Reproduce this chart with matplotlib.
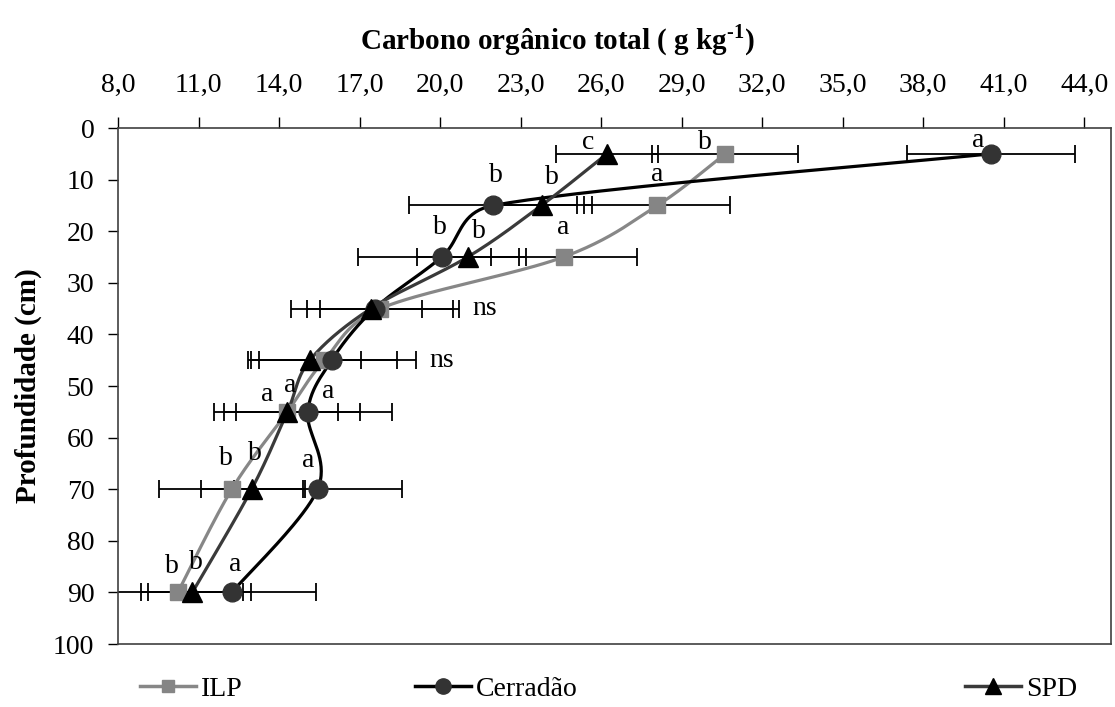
import numpy as np
import matplotlib
matplotlib.use("Agg")
import matplotlib.pyplot as plt
from matplotlib.lines import Line2D

plt.rcParams["font.family"] = "Liberation Serif"
plt.rcParams["mathtext.fontset"] = "custom"
plt.rcParams["mathtext.rm"] = "Liberation Serif:bold"
plt.rcParams["mathtext.bf"] = "Liberation Serif:bold"

# profundidade (cm) e COT (g/kg) por sistema
profundidade = [5, 15, 25, 35, 45, 55, 70, 90]
ilp = [30.63, 28.10, 24.60, 17.77, 15.69, 14.31, 12.24, 10.23]
cerradao = [40.53, 21.99, 20.06, 17.56, 15.96, 15.07, 15.44, 12.24]
spd = [26.22, 23.78, 21.03, 17.42, 15.15, 14.31, 12.98, 10.77]

erro_ilp = [2.72, 2.72, 2.72, 2.72, 2.72, 2.72, 2.72, 2.72]
erro_cerradao = [3.13, 3.13, 3.13, 3.13, 3.13, 3.13, 3.13, 3.13]
erro_spd = [1.90, 1.90, 1.90, 1.90, 1.90, 1.90, 1.90, 1.90]

# letras do teste de medias ('' = sem letra)
letras_ilp = ["b", "a", "a", "", "", "a", "b", "b"]
letras_cerradao = ["a", "b", "b", "", "", "a", "a", "a"]
letras_spd = ["c", "b", "b", "", "", "a", "b", "b"]
ns = ["", "", "", "ns", "ns", "", "", ""]

xticks = [8, 11, 14, 17, 20, 23, 26, 29, 32, 35, 38, 41, 44]

# deslocamento das letras em pixels (dx, dy)
desl_ilp = [(-20, 11), (0, 31), (0, 29), None, None, (3, 26), (-6, 31), (-6, 26)]
desl_cerradao = [(-13, 13), (2, 30), (-2, 29), None, None, (20, 20), (-9, 29), (3, 28)]
desl_spd = [(-19, 11), (10, 28), (11, 26), None, None, (-20, 17), (3, 36), (4, 30)]


def suaviza(ax, x, y, n=40, k=0.5):
    # curva suavizada tipo Excel (Bezier), com controle limitado ao tamanho do segmento
    pts = ax.transData.transform(np.column_stack([x, y]))
    P = np.vstack([pts[0], pts, pts[-1]])
    out = []
    t = np.linspace(0, 1, n)[:, None]
    for i in range(1, len(P) - 2):
        p0, p1, p2, p3 = P[i - 1], P[i], P[i + 1], P[i + 2]
        seg_len = np.hypot(*(p2 - p1))
        d1 = (p2 - p0) / 6
        d2 = (p3 - p1) / 6
        for d in (d1, d2):
            n_d = np.hypot(*d)
            if n_d > k * seg_len:
                d *= k * seg_len / n_d
        c1 = p1 + d1
        c2 = p2 - d2
        seg = (1 - t) ** 3 * p1 + 3 * (1 - t) ** 2 * t * c1 + 3 * (1 - t) * t ** 2 * c2 + t ** 3 * p2
        out.append(seg if i == 1 else seg[1:])
    return ax.transData.inverted().transform(np.vstack(out))


fig = plt.figure(figsize=(11.15, 7.07), dpi=100)
ax = fig.add_axes([118 / 1115, 63 / 707, 993 / 1115, 516 / 707])
ax.set_xlim(8, 45)
ax.set_ylim(100, 0)

series = [
    (ilp, erro_ilp, "#878787", "s", "#858585", 11, letras_ilp, desl_ilp),
    (cerradao, erro_cerradao, "black", "o", "#333333", 13.5, letras_cerradao, desl_cerradao),
    (spd, erro_spd, "#3a3a3a", "^", "black", 14.5, letras_spd, desl_spd),
]

for vals, err, cor, mk, cormk, ms, letras, desl in series:
    ax.errorbar(vals, profundidade, xerr=err, fmt="none", ecolor="black",
                elinewidth=1.3, capsize=6.5, capthick=1.3, zorder=2)

for vals, err, cor, mk, cormk, ms, letras, desl in series:
    curva = suaviza(ax, vals, profundidade)
    ax.plot(curva[:, 0], curva[:, 1], color=cor, lw=2.3, zorder=3,
            solid_capstyle="round")
    ax.plot(vals, profundidade, ls="none", marker=mk, ms=ms, color=cormk, zorder=4)
    for v, p, l, d in zip(vals, profundidade, letras, desl):
        if l:
            ax.annotate(l, (v, p), xytext=d, textcoords="offset pixels",
                        ha="center", va="center", fontsize=20, zorder=5)

# "ns" a direita da maior barra
for i, txt in enumerate(ns):
    if txt:
        xmax = max(ilp[i] + erro_ilp[i], cerradao[i] + erro_cerradao[i], spd[i] + erro_spd[i])
        ax.annotate(txt, (xmax, profundidade[i]), xytext=(14, 0), textcoords="offset pixels",
                    ha="left", va="center", fontsize=20)

ax.xaxis.tick_top()
ax.set_xticks(xticks)
ax.set_xticklabels([f"{v:.1f}".replace(".", ",") for v in xticks])
ax.set_yticks(range(0, 101, 10))
ax.tick_params(axis="x", direction="out", length=8, width=1, pad=14, labelsize=20, colors="black")
ax.tick_params(axis="y", direction="out", length=7, width=1, pad=10, labelsize=20)
for s in ax.spines.values():
    s.set_color("#404040")
    s.set_linewidth(1.2)

fig.text(0.5, 1 - 40 / 707, r"Carbono orgânico total ( g kg$^{\text{-1}}$)", ha="center",
         va="center", fontsize=21, fontweight="bold")
ax.set_ylabel("Profundidade (cm)", fontsize=21, fontweight="bold", labelpad=8)

legendas = [
    ("ILP", "#878787", "s", "#858585", 9, 140),
    ("Cerradão", "black", "o", "#333333", 11, 415),
    ("SPD", "#3a3a3a", "^", "black", 12, 965),
]
for nome, cor, mk, cormk, ms, xpx in legendas:
    h = Line2D([], [], color=cor, lw=2.5, marker=mk, ms=ms, mfc=cormk, mec=cormk)
    fig.legend(handles=[h], labels=[nome], loc="center left",
               bbox_to_anchor=(xpx / 1115, 1 - 689 / 707), frameon=False,
               fontsize=20, handlelength=2.0, handletextpad=0.2,
               borderpad=0, borderaxespad=0)

fig.savefig("out.png", dpi=100)
